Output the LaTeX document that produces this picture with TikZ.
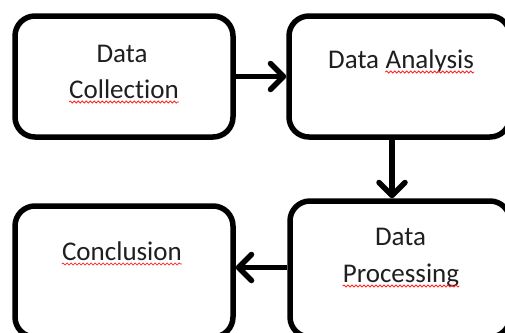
\documentclass[tikz,border=0pt]{standalone}
\usepackage{fontspec}
\setmainfont{Carlito}[Ligatures={NoCommon,NoRare}]
\usetikzlibrary{arrows.meta,decorations.pathmorphing}
\begin{document}
\begin{tikzpicture}[x=1pt,y=-1pt,
  box/.style={draw=black, line width=5.5pt, rounded corners=20pt, inner sep=0pt, fill=white},
  lbl/.style={font=\fontsize{27}{36}\selectfont, inner sep=0pt, anchor=base, text=black!88},
  flow/.style={line width=5.5pt, -{Straight Barb[length=13pt,width=26pt,round]}},
  wavy/.style={draw=red!85, line width=0.8pt, decorate, decoration={snake, segment length=4pt, amplitude=1pt}}
]
\useasboundingbox (0,0) rectangle (505,332);
\clip (0,0) rectangle (505,332);
% boxes
\node[box, minimum width=218pt, minimum height=121pt] (coll) at (124,76.5) {};
\node[box, minimum width=221pt, minimum height=121pt] (ana) at (399.5,76.5) {};
\node[box, minimum width=220pt, minimum height=136pt] (proc) at (400,269) {};
\node[box, minimum width=218pt, minimum height=131pt] (conc) at (124,271.5) {};
% texts
\node[lbl] (t1) at (122,62) {Data};
\node[lbl] (t2) at (124,98) {Collection};
\node[lbl, anchor=base west] (t3a) at (328,68) {Data};
\node[lbl, anchor=base west] (t3b) at ([xshift=6.1pt]t3a.base east) {Analysis};
\node[lbl] (t4) at (400.5,245) {Data};
\node[lbl] (t5) at (401,282) {Processing};
\node[lbl] (t6) at (122,260) {Conclusion};
% spell-check underlines
\draw[wavy] ([yshift=-4pt]t2.base west) -- ([yshift=-4pt]t2.base east);
\draw[wavy] ([yshift=-4pt]t3b.base west) -- ([yshift=-4pt]t3b.base east);
\draw[wavy] ([yshift=-4pt]t5.base west) -- ([yshift=-4pt]t5.base east);
\draw[wavy] ([yshift=-4pt]t6.base west) -- ([yshift=-4pt]t6.base east);
% connectors
\draw[flow] (coll.east) -- (ana.west);
\draw[flow] ([xshift=-7.5pt]ana.south) -- ([xshift=-7.5pt]ana.south |- proc.north);
\draw[flow] ([yshift=1.5pt]proc.west) -- ([yshift=1.5pt]proc.west -| conc.east);
\end{tikzpicture}
\end{document}
